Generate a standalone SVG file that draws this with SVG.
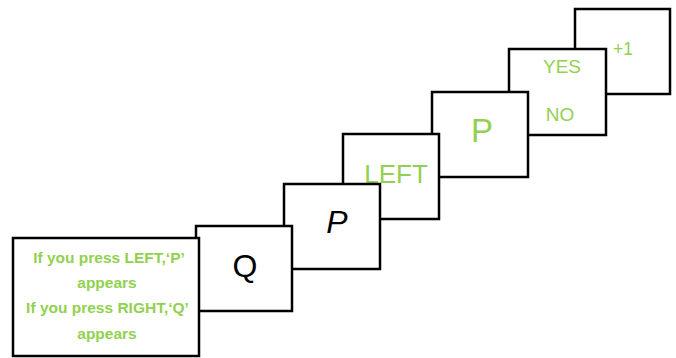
<svg xmlns="http://www.w3.org/2000/svg" width="676" height="358" viewBox="0 0 676 358">
<style>
.box{fill:#fff;stroke:#000;stroke-width:2.5}
.g{fill:#92d050;font-family:"Liberation Sans",Arial,sans-serif;text-anchor:middle}
.b{fill:#000;font-family:"Liberation Sans",Arial,sans-serif;text-anchor:middle}
.ins{font-weight:bold;font-size:15.5px}
</style>
<rect width="676" height="358" fill="#fff"/>
<g id="plus1"><rect class="box" x="575" y="9" width="95" height="85"/><text class="g" x="623" y="55" font-size="17.5">+1</text></g>
<g id="yesno"><rect class="box" x="509" y="49" width="97" height="86"/><text class="g" x="562" y="73" font-size="19">YES</text><text class="g" x="560" y="121" font-size="19">NO</text></g>
<g id="pgreen"><rect class="box" x="432" y="92" width="96" height="85"/><text class="g" x="482" y="142" font-size="33">P</text></g>
<g id="left"><rect class="box" x="343" y="134" width="96" height="85"/><text class="g" x="396" y="183" font-size="26">LEFT</text></g>
<g id="pitalic"><rect class="box" x="284" y="184" width="96" height="85"/><text class="b" x="337" y="233" font-size="32" font-style="italic">P</text></g>
<g id="q"><rect class="box" x="196" y="226" width="96" height="85"/><text class="b" x="245" y="277" font-size="32">Q</text></g>
<g id="instructions"><rect class="box" x="13" y="238" width="186" height="118"/>
<text class="g ins" x="109" y="263">If you press LEFT,‘P’</text>
<text class="g ins" x="107" y="288">appears</text>
<text class="g ins" x="107.5" y="313">If you press RIGHT,‘Q’</text>
<text class="g ins" x="107" y="339">appears</text></g>
<g id="connectors"/>
</svg>
